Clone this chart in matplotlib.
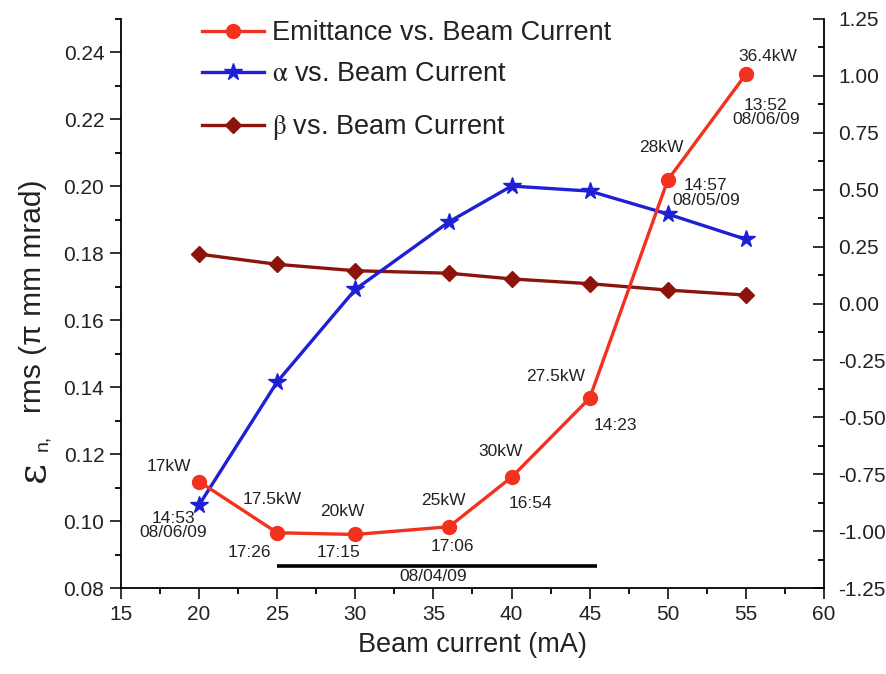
import matplotlib
matplotlib.use('Agg')
import matplotlib.pyplot as plt
from matplotlib.lines import Line2D
from matplotlib.ticker import MultipleLocator, FixedLocator, FormatStrFormatter

plt.rcParams['font.family'] = ['Liberation Sans', 'DejaVu Sans']
plt.rcParams['mathtext.fontset'] = 'stix'
plt.rcParams['axes.unicode_minus'] = False

# ---- data ----
current = [20, 25, 30, 36, 40, 45, 50, 55]
emittance = [0.1118, 0.0965, 0.0960, 0.0983, 0.1131, 0.1367, 0.2019, 0.2335]
alpha = [-0.885, -0.344, 0.062, 0.359, 0.516, 0.494, 0.393, 0.282]
beta = [0.217, 0.172, 0.144, 0.133, 0.108, 0.087, 0.059, 0.037]

power_labels = ['17kW', '17.5kW', '20kW', '25kW', '30kW', '27.5kW', '28kW', '36.4kW']
time_labels = ['14:53\n08/06/09', '17:26', '17:15', '17:06', '16:54', '14:23',
               '14:57\n08/05/09', '13:52\n08/06/09']

date_range = [25, 45.5]
date_level = 0.0867
date_label = '08/04/09'

left_ticks = [0.08, 0.10, 0.12, 0.14, 0.16, 0.18, 0.20, 0.22, 0.24]
right_ticks = [-1.25, -1.00, -0.75, -0.50, -0.25, 0.00, 0.25, 0.50, 0.75, 1.00, 1.25]

series_names = ['Emittance vs. Beam Current',
                r'$\mathrm{\alpha}$ vs. Beam Current',
                r'$\mathrm{\beta}$ vs. Beam Current']
xlabel_text = 'Beam current (mA)'
ylabel_parts = ['ε', 'n,', 'rms (π mm mrad)']

# ---- layout / style ----
RED = '#f2311f'
BLUE = '#1f1fd6'
DRED = '#8c140c'
TXT = '#222222'

power_offsets = [(-30, 15), (-5, 33), (-13, 23), (-6, 26), (-11, 26), (-34, 22), (-6, 32), (22, 18)]
time_offsets = [(-26, -44), (-28, -20), (-17, -18), (3, -20), (19, -26), (26, -27), (38, -13), (20, -38)]

W, H = 887, 674
fig = plt.figure(figsize=(W / 100, H / 100), dpi=100)
ax = fig.add_axes([121 / W, 1 - 588 / H, 703 / W, 569 / H])
ax2 = ax.twinx()
ax.set_zorder(ax2.get_zorder() + 1)
ax.patch.set_visible(False)

ax.set_xlim(15, 60)
ax.set_ylim(0.08, 0.25)
ax2.set_ylim(-1.25, 1.25)

for a in (ax, ax2):
    a.spines['top'].set_visible(False)
    for s in a.spines.values():
        s.set_linewidth(1.3)
ax.spines['right'].set_visible(False)
ax2.spines['left'].set_visible(False)
ax2.spines['bottom'].set_visible(False)

ax.xaxis.set_major_locator(MultipleLocator(5))
ax.xaxis.set_minor_locator(MultipleLocator(2.5))
ax.yaxis.set_major_locator(FixedLocator(left_ticks))
ax.yaxis.set_minor_locator(MultipleLocator(0.01))
ax.yaxis.set_major_formatter(FormatStrFormatter('%.2f'))
ax2.yaxis.set_major_locator(FixedLocator(right_ticks))
ax2.yaxis.set_minor_locator(MultipleLocator(0.125))
ax2.yaxis.set_major_formatter(FormatStrFormatter('%.2f'))

ax.tick_params(axis='both', which='major', direction='out', length=8, width=1.3,
               labelsize=15, pad=4, colors=TXT)
ax.tick_params(axis='both', which='minor', direction='out', length=4, width=1.3)
ax2.tick_params(axis='y', which='major', direction='in', length=8, width=1.3,
                labelsize=15, pad=10, colors=TXT)
ax2.tick_params(axis='y', which='minor', direction='in', length=4, width=1.3)

ax2.plot(current, beta, color=DRED, lw=2.4, marker='D', ms=8, zorder=3)
ax2.plot(current, alpha, color=BLUE, lw=2.4, marker='*', ms=13, zorder=4)
ax.plot(current, emittance, color=RED, lw=2.4, marker='o', ms=10, zorder=5)

for xv, yv, txt, off in zip(current, emittance, power_labels, power_offsets):
    ax.annotate(txt, (xv, yv), xytext=off, textcoords='offset pixels',
                ha='center', va='center', fontsize=12.5, color=TXT)
for xv, yv, txt, off in zip(current, emittance, time_labels, time_offsets):
    ax.annotate(txt, (xv, yv), xytext=off, textcoords='offset pixels',
                ha='center', va='center', fontsize=12.5, color=TXT,
                linespacing=0.95)

ax.plot(date_range, [date_level, date_level], color='black', lw=2.6, solid_capstyle='butt')
ax.annotate(date_label, (sum(date_range) / 2, date_level), xytext=(-4, -11),
            textcoords='offset pixels', ha='center', va='center', fontsize=12.5,
            color=TXT)

ax.set_xlabel(xlabel_text, fontsize=19.5, color=TXT, labelpad=6)

# y label built from pieces: large epsilon, subscript "n,", then the rest
ylab_specs = [  # (baseline x px, start y px from top, fontsize, family)
    (44, 482, 29, ['DejaVu Serif']),
    (47, 451, 14, ['Liberation Sans', 'DejaVu Sans']),
    (41, 413, 21.5, ['Liberation Sans', 'DejaVu Sans']),
]
for txt, (bx, sy, fs, fam) in zip(ylabel_parts, ylab_specs):
    fig.text(bx / W, 1 - sy / H, txt, fontsize=fs, family=fam, color=TXT,
             rotation=90, rotation_mode='anchor', ha='left', va='baseline')

handles = [Line2D([], [], color=RED, lw=2.4, marker='o', ms=10),
           Line2D([], [], color=BLUE, lw=2.4, marker='*', ms=13),
           Line2D([], [], color=DRED, lw=2.4, marker='D', ms=8)]
rows_y = [33, 74, 128]
for h, name, ry in zip(handles, series_names, rows_y):
    fig.legend(handles=[h], labels=[name], loc='center left',
               bbox_to_anchor=(202 / W, 1 - ry / H), bbox_transform=fig.transFigure,
               frameon=False, fontsize=19.5, handlelength=2.3, handletextpad=0.3,
               borderpad=0, borderaxespad=0, labelcolor=TXT)

fig.savefig('out.png', dpi=100)
